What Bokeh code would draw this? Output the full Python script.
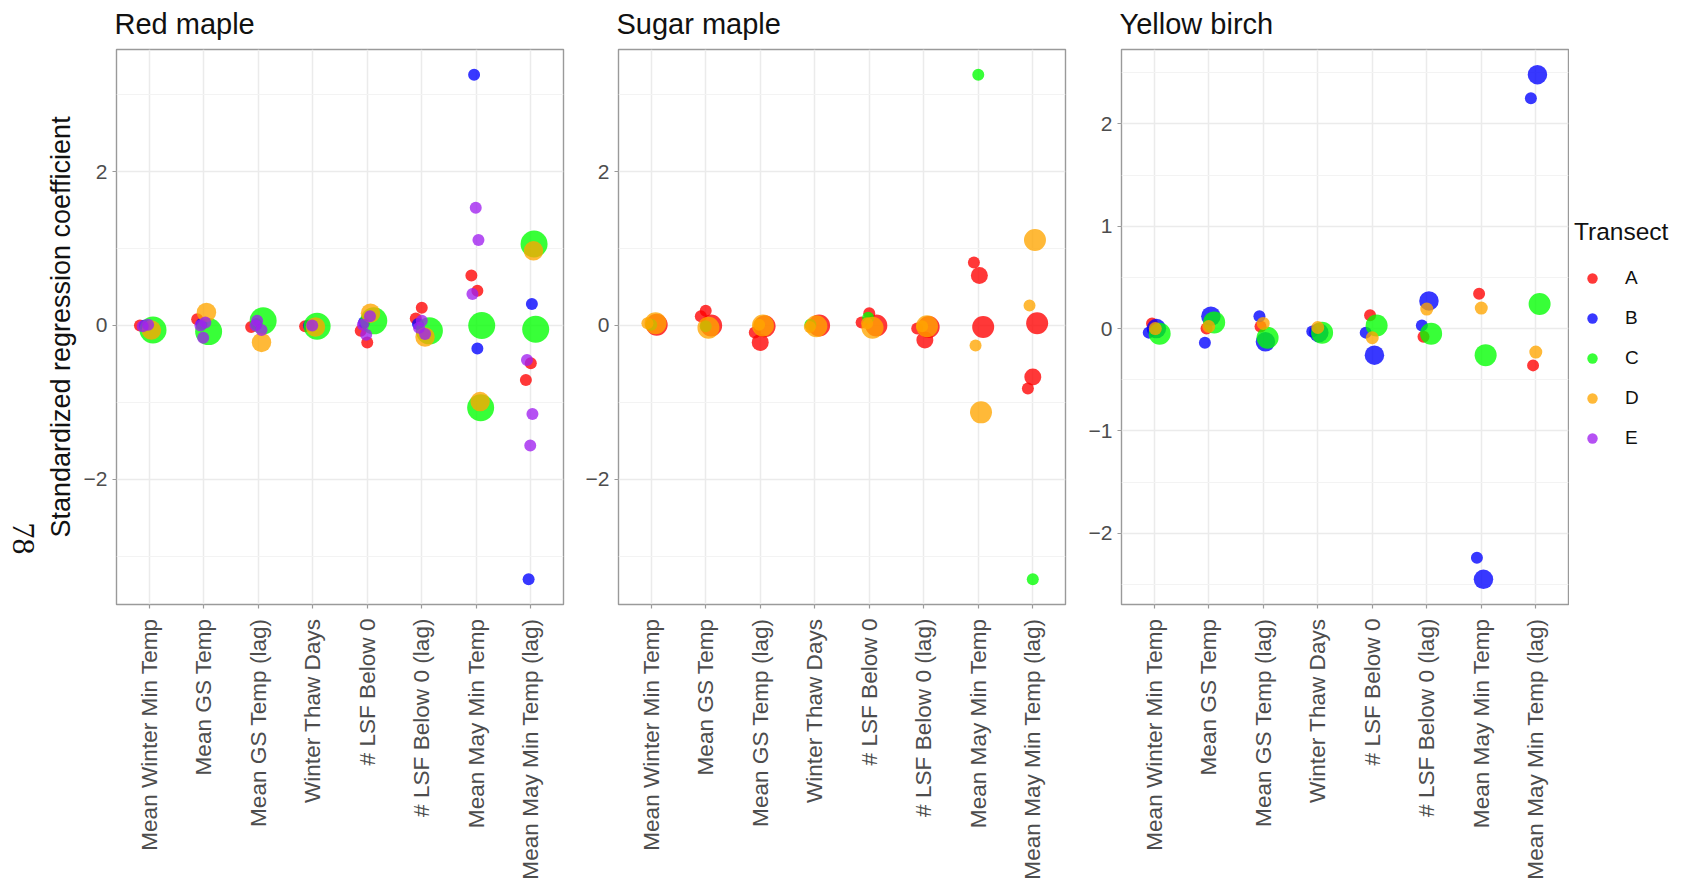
import numpy as np
from math import pi
from bokeh.plotting import figure
from bokeh.models import (ColumnDataSource, Range1d, FixedTicker, Legend, LegendItem, Label)
from bokeh.layouts import row
from bokeh.embed import file_html
from bokeh.resources import INLINE

# ---------------- data ----------------
variables = ["Mean Winter Min Temp", "Mean GS Temp", "Mean GS Temp (lag)", "Winter Thaw Days",
             "# LSF Below 0", "# LSF Below 0 (lag)", "Mean May Min Temp", "Mean May Min Temp (lag)"]
transects = ["A", "B", "C", "D", "E"]
species = ["Red maple", "Sugar maple", "Yellow birch"]
y_title = "Standardized regression coefficient"
legend_title = "Transect"
page_number = "78"

# Red maple (variable index 1..8, transect, coefficient, relative point size, jitter)
rm_var = [1, 2, 3, 4, 5, 5, 6, 6, 7, 7, 8, 8,
          1, 2, 3, 4, 5, 6, 7, 7, 8, 8,
          1, 2, 3, 4, 5, 6, 7, 7, 8, 8,
          1, 2, 3, 4, 5, 6, 7, 8,
          1, 1, 2, 2, 2, 3, 3, 3, 4, 5, 5, 5, 6, 6, 6, 7, 7, 7, 8, 8, 8]
rm_transect = list("AAAAAAAAAAAA" "BBBBBBBBBB" "CCCCCCCCCC" "DDDDDDDD" "EEEEEEEEEEEEEEEEEEEEE")
rm_coef = [0.00, 0.08, -0.02, -0.01, -0.07, -0.22, 0.23, 0.09, 0.65, 0.45, -0.71, -0.49,
           0.00, 0.02, 0.02, 0.00, 0.04, 0.02, 3.26, -0.30, 0.28, -3.30,
           -0.06, -0.08, 0.06, -0.01, 0.06, -0.07, 0.00, -1.07, 1.06, -0.05,
           -0.06, 0.17, -0.22, -0.02, 0.16, -0.15, -0.99, 0.97,
           0.01, -0.01, 0.04, 0.00, -0.16, 0.06, 0.00, -0.06, 0.00, 0.12, -0.12, 0.01,
           0.06, -0.03, -0.11, 1.53, 1.11, 0.41, -0.45, -1.15, -1.56]
rm_weight = [1] * 12 + [1] * 10 + [4] * 10 + [2.5] * 8 + [1] * 21
rm_jitter = [-0.17, -0.12, -0.13, -0.14, -0.12, 0.00, 0.00, -0.11, -0.09, 0.02, -0.09, 0.00,
             -0.08, -0.04, -0.03, -0.07, -0.06, -0.07, -0.04, 0.02, 0.02, -0.04,
             0.07, 0.09, 0.09, 0.08, 0.12, 0.14, 0.10, 0.08, 0.06, 0.09,
             0.04, 0.05, 0.06, 0.05, 0.06, 0.06, 0.07, 0.05,
             -0.02, -0.12, 0.03, -0.06, -0.01, -0.02, -0.05, 0.06, -0.01, 0.05, -0.02, -0.08,
             0.00, -0.05, 0.06, -0.01, 0.04, -0.07, -0.07, 0.03, -0.01]

# Sugar maple
sm_var = [1, 2, 2, 2, 3, 3, 3, 4, 5, 5, 5, 6, 6, 6, 7, 7, 7, 8, 8, 8,
          1, 2, 4, 5, 7, 8,
          1, 1, 2, 3, 3, 4, 4, 5, 5, 6, 6, 7, 7, 8, 8]
sm_transect = list("AAAAAAAAAAAAAAAAAAAA" "CCCCCC" "DDDDDDDDDDDDDDD")
sm_coef = [0.01, 0.19, 0.12, 0.00, -0.09, -0.22, -0.01, 0.00, 0.16, 0.04, 0.00, -0.04, -0.19, -0.02,
           0.82, 0.65, -0.02, 0.03, -0.67, -0.82,
           0.01, -0.01, 0.01, 0.10, 3.26, -3.30,
           0.03, 0.03, -0.03, 0.00, 0.01, -0.01, -0.02, -0.03, 0.03, -0.01, -0.01, -0.26, -1.13, 1.11, 0.26]
sm_weight = [3, 1, 1, 3, 1, 2, 3, 3, 1, 1, 3, 1, 2, 3, 1, 2, 3, 3, 2, 1,
             1, 1, 1, 1, 1, 1,
             1, 3, 3, 3, 1, 3, 1, 3, 1, 3, 1, 1, 3, 3, 1]
sm_jitter = [0.10, 0.00, -0.09, 0.10, -0.10, 0.00, 0.08, 0.08, 0.00, -0.14, 0.13, -0.12, 0.02, 0.09,
             -0.08, 0.02, 0.09, 0.08, 0.00, -0.09,
             0.00, 0.00, -0.08, -0.02, 0.00, 0.00,
             -0.07, 0.08, 0.05, 0.05, -0.02, 0.03, -0.09, 0.06, -0.04, 0.06, -0.03, -0.05, 0.05, 0.04, -0.06]

# Yellow birch
yb_var = [1, 2, 3, 5, 6, 7, 8,
          1, 1, 2, 2, 3, 3, 4, 4, 5, 5, 6, 6, 7, 7, 8, 8,
          1, 2, 3, 4, 5, 6, 7, 8,
          1, 2, 3, 4, 5, 6, 7, 8]
yb_transect = list("AAAAAAA" "BBBBBBBBBBBBBBBB" "CCCCCCCC" "DDDDDDDD")
yb_coef = [0.05, 0.00, 0.02, 0.13, -0.08, 0.34, -0.36,
           -0.04, 0.00, 0.12, -0.14, 0.12, -0.13, -0.03, -0.04, -0.04, -0.26, 0.27, 0.03, -2.24, -2.45, 2.48, 2.25,
           -0.05, 0.06, -0.09, -0.04, 0.03, -0.05, -0.26, 0.24,
           0.00, 0.02, 0.05, 0.01, -0.09, 0.19, 0.20, -0.23]
yb_weight = [1] * 7 + [1, 2.5, 2.5, 1, 1, 2.5, 1, 2.5, 1, 2.5, 2.5, 1, 1, 2.5, 2.5, 1] + [3] * 8 + [1.2] * 8
yb_jitter = [-0.04, -0.04, -0.05, -0.04, -0.06, -0.04, -0.05,
             -0.10, 0.04, 0.04, -0.07, -0.07, 0.04, -0.10, 0.02, -0.12, 0.04, 0.04, -0.09, -0.08, 0.04, 0.03, -0.09,
             0.10, 0.10, 0.08, 0.08, 0.08, 0.08, 0.08, 0.07,
             0.02, 0.00, 0.00, 0.00, 0.00, 0.00, 0.00, 0.00]

yticks_maple = [-2, 0, 2]
yminor_maple = [-3, -1, 1, 3]
yticks_birch = [-2, -1, 0, 1, 2]
yminor_birch = [-2.5, -1.5, -0.5, 0.5, 1.5, 2.5]

# ---------------- style ----------------
colors = {"A": "#FF0000", "B": "#0000FF", "C": "#00FF00", "D": "#FFA500", "E": "#A020F0"}
ALPHA = 0.78
FONT = "Liberation Sans"
H = 883
TOP, BOTTOM = 49, 604          # frame edges (px from top), shared by every figure in the row


def minus(v):
    return ("%g" % v).replace("-", "\u2212")


def blank_figure(width, x_range, y_range):
    p = figure(width=width, height=H, x_range=x_range, y_range=y_range,
               output_backend="svg", toolbar_location=None,
               min_border_left=0, min_border_right=0, min_border_top=TOP, min_border_bottom=H - BOTTOM)
    p.axis.visible = False
    p.grid.visible = False
    p.outline_line_color = None
    p.background_fill_color = "white"
    p.border_fill_color = "white"
    return p


def make_panel(title, var, tr, coef, weight, jit, yticks, yminor, width, left, right, ylabel=None):
    coef = np.asarray(coef, dtype=float)
    lo, hi = coef.min(), coef.max()
    pad = 0.05 * (hi - lo)
    p = figure(width=width, height=H, x_range=Range1d(0.4, 8.6), y_range=Range1d(lo - pad, hi + pad),
               output_backend="svg", toolbar_location=None, title=title,
               min_border_left=left, min_border_right=right, min_border_top=TOP,
               min_border_bottom=H - BOTTOM)
    p.background_fill_color = "white"
    p.border_fill_color = "white"
    p.outline_line_color = "#9a9a9a"
    p.outline_line_width = 1.4

    p.title.text_font = FONT
    p.title.text_font_size = "29px"
    p.title.text_font_style = "normal"
    p.title.text_color = "#111111"
    p.title.align = "left"
    p.title.vertical_align = "top"
    p.title.offset = -2
    p.title.standoff = 15

    # x axis
    xt = FixedTicker(ticks=list(range(1, len(variables) + 1)))
    p.xaxis.ticker = xt
    p.xaxis.major_label_overrides = {i + 1: v for i, v in enumerate(variables)}
    p.xaxis.major_label_orientation = pi / 2
    p.xaxis.major_label_text_font = FONT
    p.xaxis.major_label_text_font_size = "22.6px"
    p.xaxis.major_label_text_color = "#4d4d4d"
    p.xaxis.major_label_standoff = 10
    # y axis
    yt = FixedTicker(ticks=yticks, minor_ticks=yminor)
    p.yaxis.ticker = yt
    p.yaxis.major_label_overrides = {t: minus(t) for t in yticks}
    p.yaxis.major_label_text_font = FONT
    p.yaxis.major_label_text_font_size = "21px"
    p.yaxis.major_label_text_color = "#4d4d4d"
    p.yaxis.major_label_standoff = 5
    for ax in (p.xaxis, p.yaxis):
        ax.axis_line_color = None
        ax.major_tick_line_color = "#9a9a9a"
        ax.major_tick_line_width = 1.2
        ax.major_tick_out = 4
        ax.major_tick_in = 0
        ax.minor_tick_line_color = None
    if ylabel:
        p.yaxis.axis_label = ylabel
        p.yaxis.axis_label_text_font = FONT
        p.yaxis.axis_label_text_font_size = "27px"
        p.yaxis.axis_label_text_font_style = "normal"
        p.yaxis.axis_label_text_color = "#111111"
        p.yaxis.axis_label_standoff = 5

    # grid
    p.xgrid.ticker = xt
    p.ygrid.ticker = yt
    p.xgrid.grid_line_color = "#ebebeb"
    p.xgrid.grid_line_width = 1.5
    p.ygrid.grid_line_color = "#ebebeb"
    p.ygrid.grid_line_width = 1.5
    p.ygrid.minor_grid_line_color = "#f3f3f3"
    p.ygrid.minor_grid_line_width = 1.0

    x = np.asarray(var, dtype=float) + np.asarray(jit, dtype=float)
    sizes = 12 + (np.asarray(weight, dtype=float) - 1) * 5
    trs = np.asarray(tr)
    for t in transects:
        idx = np.where(trs == t)[0]
        if len(idx) == 0:
            continue
        src = ColumnDataSource(dict(x=x[idx], y=coef[idx], s=sizes[idx]))
        p.scatter("x", "y", size="s", source=src, fill_color=colors[t], fill_alpha=ALPHA,
                  line_color=None)
    return p


# left margin with the page number (data units = page pixels inside this strip)
pn = blank_figure(40, Range1d(0, 40), Range1d(BOTTOM, TOP))
pn.add_layout(Label(x=22.5, y=538, text=page_number, angle=-pi / 2,
                    text_font="Liberation Serif", text_font_size="32px", text_color="#111111",
                    text_align="center", text_baseline="middle"))

p1 = make_panel(species[0], rm_var, rm_transect, rm_coef, rm_weight, rm_jitter,
                yticks_maple, yminor_maple, 535, 76, 12, ylabel=y_title)
p2 = make_panel(species[1], sm_var, sm_transect, sm_coef, sm_weight, sm_jitter,
                yticks_maple, yminor_maple, 502, 43, 12)
p3 = make_panel(species[2], yb_var, yb_transect, yb_coef, yb_weight, yb_jitter,
                yticks_birch, yminor_birch, 492, 44, 1)

# legend strip
pl = blank_figure(112, Range1d(0, 1), Range1d(0, 1))
items = []
for t in transects:
    r = pl.scatter(x=[float("nan")], y=[float("nan")], size=10, fill_color=colors[t],
                   fill_alpha=ALPHA, line_color=None)
    items.append(LegendItem(label=t, renderers=[r]))
legend = Legend(items=items, title=legend_title, location=(5, BOTTOM - 451),
                title_text_font=FONT, title_text_font_size="24.5px", title_text_font_style="normal",
                title_text_color="#111111", title_standoff=19,
                label_text_font=FONT, label_text_font_size="19px", label_text_color="#111111",
                glyph_width=36, glyph_height=26, label_standoff=15, spacing=14,
                padding=6, margin=0, border_line_color=None, background_fill_alpha=0)
pl.add_layout(legend, "center")

layout = row(pn, p1, p2, p3, pl, spacing=0)
open("out.html", "w").write(file_html(layout, INLINE))
